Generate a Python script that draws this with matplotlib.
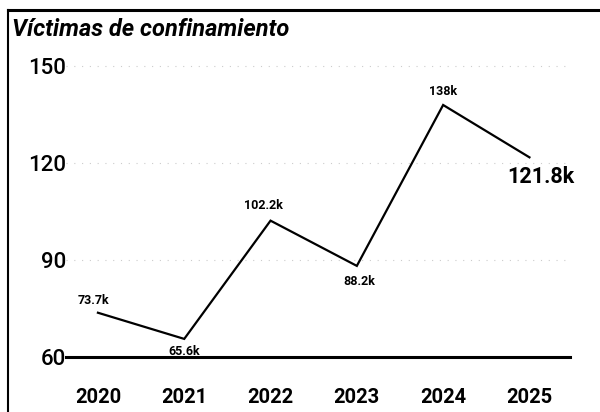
"""Victimas de confinamiento: simple line chart with point labels."""

import matplotlib

matplotlib.use("Agg")
import matplotlib.pyplot as plt
from matplotlib.lines import Line2D

years = ["2020", "2021", "2022", "2023", "2024", "2025"]
values = [73.7, 65.6, 102.2, 88.2, 138.0, 121.8]
point_labels = ["73.7k", "65.6k", "102.2k", "88.2k", "138k", "121.8k"]
yticks = [60, 90, 120, 150]

plt.rcParams["font.family"] = ["Roboto", "DejaVu Sans"]

fig = plt.figure(figsize=(6, 4.12), dpi=100)
ax = fig.add_axes([0.11, 0.1335, 0.84, 0.745])

x = list(range(len(years)))
ax.plot(x, values, color="black", lw=1.6, solid_joinstyle="miter")

# small labels above / below the points, the last one bigger
offsets = [(-3, 9), (0, -9), (-5, 11), (2, -11), (0, 10)]
for i, (dx, dy) in enumerate(offsets):
    ax.annotate(point_labels[i], (x[i], values[i]), xytext=(dx, dy),
                textcoords="offset points", ha="center", va="center",
                fontsize=9, fontweight="bold")
ax.annotate(point_labels[-1], (x[-1], values[-1]), xytext=(8, -14),
            textcoords="offset points", ha="center", va="center",
            fontsize=15.5, fontweight="bold")

ax.set_xlim(-0.37, 5.47)
ax.set_ylim(60, 155)
ax.set_xticks(x)
ax.set_xticklabels(years)
ax.set_yticks(yticks)
ax.tick_params(axis="x", length=0, labelsize=14.5, pad=22)
ax.tick_params(axis="y", length=0, labelsize=16, pad=0)
for lab in ax.get_xticklabels():
    lab.set_fontweight("bold")
for lab in ax.get_yticklabels():
    lab.set_fontweight("medium")

for v in yticks[1:]:
    ax.axhline(v, color="#cccccc", lw=0.8, ls=(0, (1, 6)), zorder=0)

for side in ["top", "right", "left"]:
    ax.spines[side].set_visible(False)
ax.spines["bottom"].set_linewidth(2.2)

# outer frame: top and left edge
fig.add_artist(Line2D([8 / 600, 1], [1 - 10 / 412, 1 - 10 / 412], color="black", lw=2.2))
fig.add_artist(Line2D([8 / 600, 8 / 600], [0, 1 - 10 / 412], color="black", lw=1.5))

fig.text(12 / 600, 1 - 29 / 412, "Víctimas de confinamiento", fontsize=17,
         fontweight="bold", fontstyle="italic", va="center", ha="left")

fig.savefig("out.png", dpi=100)
